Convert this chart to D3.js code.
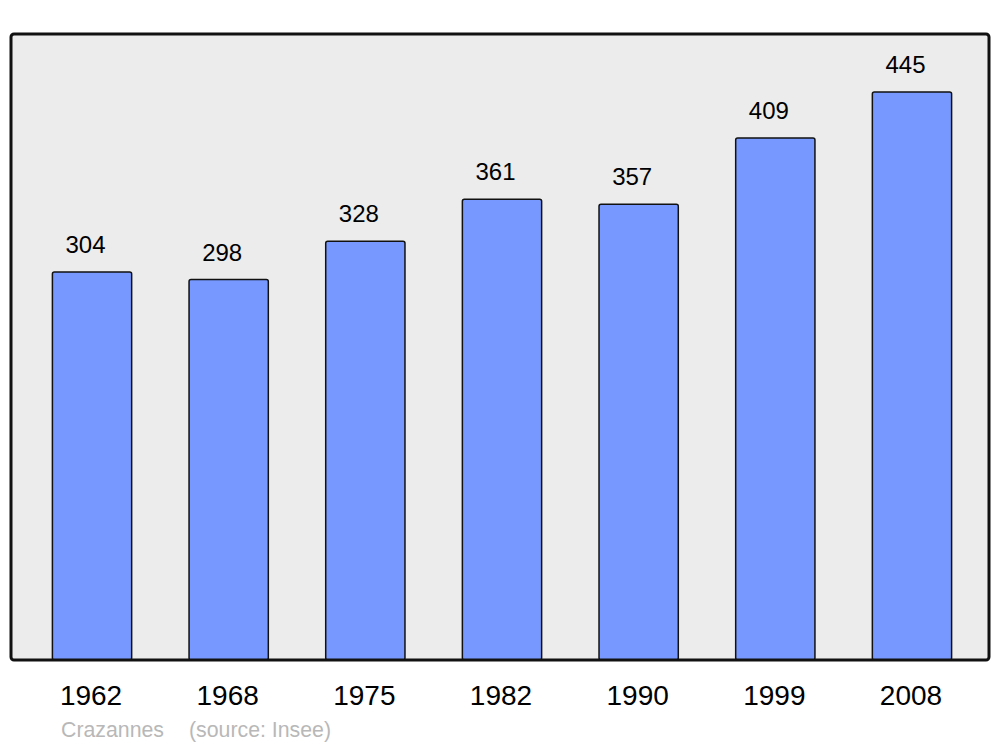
<!DOCTYPE html>
<html>
<head>
<meta charset="utf-8">
<script src="https://cdn.jsdelivr.net/npm/d3@7"></script>
<style>
  body { margin: 0; background: #fff; }
  text { font-family: "Liberation Sans", Arial, sans-serif; }
</style>
</head>
<body>
<div id="chart"></div>
<script>
const width = 1000;
const height = 747;

// Population data
const years = ["1962", "1968", "1975", "1982", "1990", "1999", "2008"];
const population = [304, 298, 328, 361, 357, 409, 445];
const commune = "Crazannes";
const source = "(source: Insee)";

const frame = { left: 11, right: 989, top: 34, bottom: 660 };

const svg = d3.select("#chart")
  .append("svg")
  .attr("width", width)
  .attr("height", height);

const x = d3.scaleBand()
  .domain(years)
  .range([23.7, 980.3])
  .paddingInner(0.42)
  .paddingOuter(0.21);

const y = d3.scaleLinear()
  .domain([0, 490.4])
  .range([frame.bottom, frame.top]);

// background
svg.append("rect")
  .attr("x", frame.left)
  .attr("y", frame.top)
  .attr("width", frame.right - frame.left)
  .attr("height", frame.bottom - frame.top)
  .attr("rx", 3)
  .attr("fill", "#ececec");

// bars
svg.selectAll(".bar")
  .data(population)
  .enter().append("rect")
  .attr("class", "bar")
  .attr("x", (d, i) => x(years[i]))
  .attr("y", d => y(d))
  .attr("width", x.bandwidth())
  .attr("height", d => frame.bottom - y(d))
  .attr("rx", 2)
  .attr("fill", "#7799ff")
  .attr("stroke", "#111")
  .attr("stroke-width", 1.5);

// frame outline on top
svg.append("rect")
  .attr("x", frame.left)
  .attr("y", frame.top)
  .attr("width", frame.right - frame.left)
  .attr("height", frame.bottom - frame.top)
  .attr("rx", 3)
  .attr("fill", "none")
  .attr("stroke", "#111")
  .attr("stroke-width", 3);

// value labels
svg.selectAll(".value")
  .data(population)
  .enter().append("text")
  .attr("class", "value")
  .attr("x", (d, i) => x(years[i]) + x.bandwidth() / 2 - 6.5)
  .attr("y", d => y(d) - 19)
  .attr("text-anchor", "middle")
  .attr("font-size", 24)
  .attr("fill", "#000")
  .text(d => d);

// year labels
const xAxis = d3.axisBottom(x).tickSize(0).tickPadding(0);
const axisG = svg.append("g")
  .attr("transform", `translate(-1,${frame.bottom})`)
  .call(xAxis);
axisG.select(".domain").remove();
axisG.selectAll("text")
  .attr("dy", null)
  .attr("y", 45)
  .attr("font-size", 28)
  .attr("font-family", "Liberation Sans, Arial, sans-serif")
  .attr("fill", "#000");

// caption
svg.append("text")
  .attr("x", 61)
  .attr("y", 737)
  .attr("font-size", 21.3)
  .attr("fill", "#b8b8b8")
  .text(commune);

svg.append("text")
  .attr("x", 189)
  .attr("y", 737)
  .attr("font-size", 21.3)
  .attr("fill", "#b8b8b8")
  .text(source);
</script>
</body>
</html>
